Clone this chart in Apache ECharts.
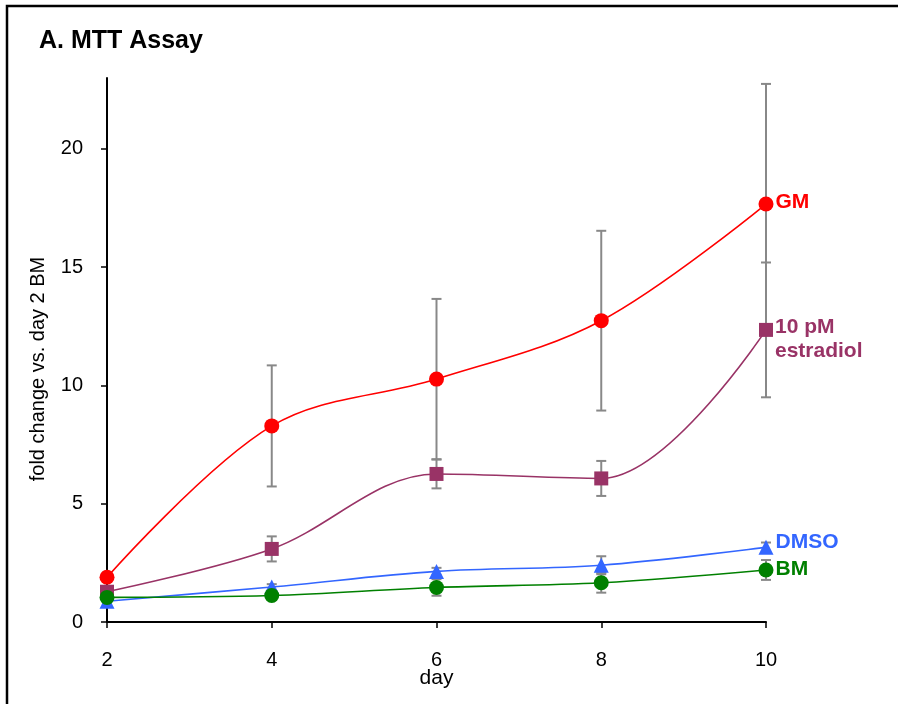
<!DOCTYPE html>
<html>
<head>
<meta charset="utf-8">
<script src="https://cdn.jsdelivr.net/npm/echarts@6/dist/echarts.min.js"></script>
<style>
  html, body { margin: 0; padding: 0; background: #fff; }
  #chart { width: 898px; height: 704px; }
</style>
</head>
<body>
<div id="chart"></div>
<script>
// Days of measurement
const days = [2, 4, 6, 8, 10];

// Mean fold change vs. day 2 BM, per treatment
const gmMean = [1.89, 8.29, 10.27, 12.74, 17.67];
const estradiolMean = [1.28, 3.09, 6.26, 6.07, 12.35];
const dmsoMean = [0.88, 1.48, 2.14, 2.40, 3.16];
const bmMean = [1.04, 1.12, 1.46, 1.66, 2.20];

// Error (± one SD) for each mean
const gmErr = [0.2, 2.56, 3.39, 3.8, 5.08];
const estradiolErr = [0.2, 0.53, 0.61, 0.74, 2.85];
const dmsoErr = [0.1, 0.12, 0.15, 0.38, 0.2];
const bmErr = [0.1, 0.1, 0.35, 0.42, 0.42];

// Tick labels
const xTicks = [2, 4, 6, 8, 10];
const yTicks = [0, 5, 10, 15, 20];

const FONT = '"Liberation Sans", Arial, sans-serif';

const groups = [
  { name: 'GM', label: 'GM', mean: gmMean, err: gmErr, color: '#FF0000', symbol: 'circle', size: 15, offset: [0, -2] },
  { name: '10 pM estradiol', label: '10 pM\nestradiol', mean: estradiolMean, err: estradiolErr, color: '#993366', symbol: 'rect', size: 14, offset: [0, 9] },
  { name: 'DMSO', label: 'DMSO', mean: dmsoMean, err: dmsoErr, color: '#3366FF', symbol: 'triangle', size: 15, offset: [0, -5] },
  { name: 'BM', label: 'BM', mean: bmMean, err: bmErr, color: '#008000', symbol: 'circle', size: 15, offset: [0, -1] }
];

function errorBarSeries(g) {
  return {
    type: 'custom',
    name: g.name + ' error',
    z: 1,
    silent: true,
    data: days.map((d, i) => [d, g.mean[i] - g.err[i], g.mean[i] + g.err[i]]),
    renderItem: function (params, api) {
      const x = api.value(0);
      const lo = api.coord([x, api.value(1)]);
      const hi = api.coord([x, api.value(2)]);
      const half = 5;
      const style = { stroke: '#888888', lineWidth: 2, fill: null };
      return {
        type: 'group',
        children: [
          { type: 'line', shape: { x1: lo[0], y1: lo[1], x2: hi[0], y2: hi[1] }, style: style },
          { type: 'line', shape: { x1: lo[0] - half, y1: lo[1], x2: lo[0] + half, y2: lo[1] }, style: style },
          { type: 'line', shape: { x1: hi[0] - half, y1: hi[1], x2: hi[0] + half, y2: hi[1] }, style: style }
        ]
      };
    }
  };
}

function lineSeries(g) {
  return {
    type: 'line',
    name: g.name,
    z: 3,
    smooth: 0.35,
    symbol: g.symbol,
    symbolSize: g.size,
    showAllSymbol: true,
    lineStyle: { color: g.color, width: 1.6 },
    itemStyle: { color: g.color },
    data: days.map((d, i) => {
      const item = { value: [d, g.mean[i]] };
      if (i === days.length - 1) {
        item.label = {
          show: true,
          position: 'right',
          distance: 2,
          formatter: g.label,
          color: g.color,
          fontFamily: FONT,
          fontWeight: 'bold',
          fontSize: 21,
          lineHeight: 24,
          align: 'left',
          verticalAlign: 'middle',
          offset: g.offset
        };
      }
      return item;
    })
  };
}

const chart = echarts.init(document.getElementById('chart'), null, { renderer: 'canvas' });

chart.setOption({
  animation: false,
  backgroundColor: '#ffffff',
  title: {
    text: 'A. MTT Assay',
    left: 34,
    top: 24,
    textStyle: { fontFamily: FONT, fontWeight: 'bold', fontSize: 25, color: '#000' }
  },
  graphic: [
    {
      type: 'rect',
      shape: { x: 7, y: 6, width: 1000, height: 1000 },
      style: { fill: null, stroke: '#000', lineWidth: 2.5 },
      silent: true
    }
  ],
  grid: { left: 107, right: 132, top: 78, bottom: 82, containLabel: false },
  xAxis: {
    type: 'value',
    min: 2,
    max: 10,
    interval: 2,
    name: 'day',
    nameLocation: 'middle',
    nameGap: 46,
    nameMoveOverlap: false,
    nameTextStyle: { fontFamily: FONT, fontSize: 21, color: '#000' },
    axisLine: { show: true, lineStyle: { color: '#000', width: 2 } },
    axisTick: { show: true, length: 6, lineStyle: { color: '#000', width: 1.5 }, customValues: xTicks },
    axisLabel: { fontFamily: FONT, fontSize: 20, color: '#000', margin: 28, customValues: xTicks },
    splitLine: { show: false }
  },
  yAxis: {
    type: 'value',
    min: 0,
    max: 23,
    name: 'fold change vs. day 2 BM',
    nameLocation: 'middle',
    nameGap: 59,
    nameRotate: 90,
    nameMoveOverlap: false,
    nameTextStyle: { fontFamily: FONT, fontSize: 20, color: '#000', padding: [0, 38, 0, 0] },
    axisLine: { show: true, lineStyle: { color: '#000', width: 2 } },
    axisTick: { show: true, length: 6, lineStyle: { color: '#000', width: 1.5 }, customValues: yTicks },
    axisLabel: { fontFamily: FONT, fontSize: 20, color: '#000', margin: 24, customValues: yTicks },
    splitLine: { show: false }
  },
  series: groups.map(errorBarSeries).concat(groups.map(lineSeries))
});
</script>
</body>
</html>
